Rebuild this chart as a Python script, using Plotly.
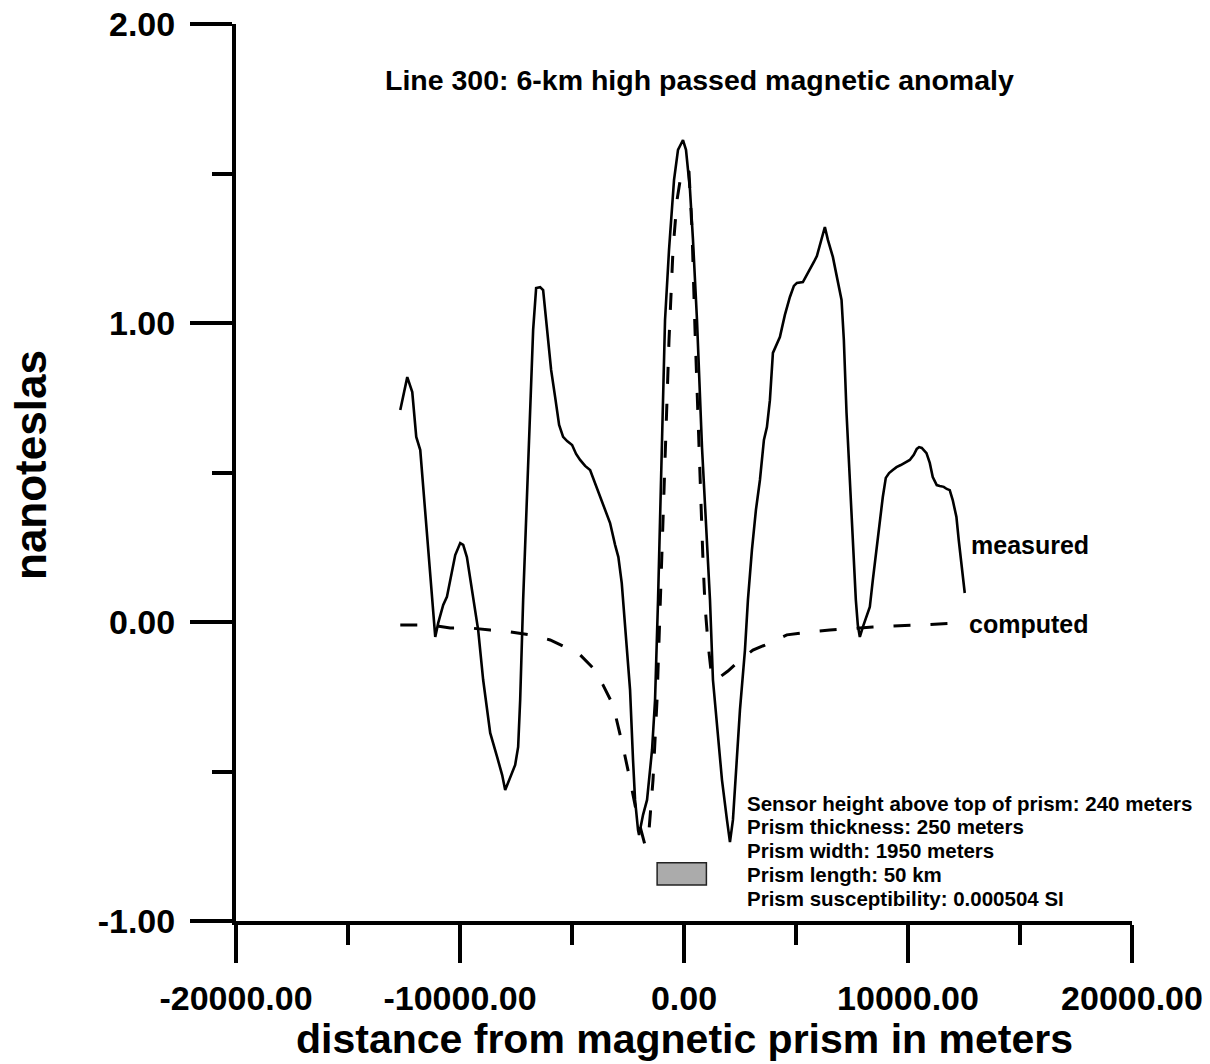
import plotly.graph_objects as go

# ---------------- data ----------------
measured_x = [-12666, -12354, -12131, -11953, -11774, -11476, -11239, -11105, -10972, -10749,
              -10584, -10361, -10213, -9990, -9857, -9692, -9411, -9188, -8965, -8652,
              -8340, -8117, -7983, -7760, -7537, -7404, -7314, -7181, -6958, -6735,
              -6601, -6422, -6289, -6110, -5932, -5754, -5575, -5397, -5218, -4995,
              -4817, -4638, -4415, -4192, -3969, -3746, -3523, -3300, -3077, -2930,
              -2779, -2721, -2556, -2408, -2275, -2185, -2052, -2007, -1828, -1650,
              -1427, -1293, -1159, -1025, -847, -669, -446, -268, -45, 89,
              268, 401, 580, 803, 1026, 1160, 1293, 1516, 1695, 1918,
              2052, 2185, 2319, 2498, 2721, 2854, 3033, 3211, 3390, 3568,
              3702, 3835, 3969, 4147, 4281, 4504, 4728, 4906, 5040, 5307,
              5486, 5620, 5798, 5932, 6066, 6289, 6423, 6646, 6780, 7033,
              7136, 7256, 7404, 7537, 7671, 7760, 7850, 7983, 8117, 8295,
              8429, 8594, 8742, 8875, 9009, 9156, 9322, 9486, 9678, 9901,
              10080, 10258, 10392, 10495, 10615, 10825, 10972, 11105, 11283, 11418,
              11596, 11730, 11864, 11997, 12162, 12265, 12399, 12533]
measured_nT = [0.709, 0.819, 0.769, 0.619, 0.575, 0.308, 0.074, -0.050, -0.003, 0.057,
               0.084, 0.174, 0.224, 0.264, 0.258, 0.217, 0.084, -0.027, -0.194, -0.371,
               -0.452, -0.512, -0.562, -0.522, -0.478, -0.418, -0.261, 0.074, 0.508, 0.977,
               1.117, 1.120, 1.110, 0.977, 0.843, 0.753, 0.659, 0.619, 0.605, 0.592,
               0.562, 0.542, 0.522, 0.508, 0.465, 0.418, 0.375, 0.331, 0.258, 0.217,
               0.130, 0.074, -0.094, -0.227, -0.462, -0.595, -0.696, -0.712, -0.645, -0.595,
               -0.428, -0.261, 0.074, 0.475, 1.010, 1.244, 1.478, 1.579, 1.612, 1.579,
               1.445, 1.278, 1.010, 0.585, 0.251, 0.074, -0.194, -0.395, -0.528, -0.662,
               -0.736, -0.662, -0.495, -0.294, -0.094, 0.074, 0.241, 0.375, 0.475, 0.609,
               0.652, 0.742, 0.900, 0.933, 0.953, 1.027, 1.087, 1.124, 1.134, 1.137,
               1.161, 1.177, 1.204, 1.224, 1.264, 1.321, 1.278, 1.221, 1.171, 1.077,
               0.943, 0.699, 0.475, 0.251, 0.074, -0.010, -0.050, -0.017, 0.013, 0.050,
               0.140, 0.251, 0.341, 0.418, 0.482, 0.498, 0.508, 0.518, 0.525, 0.535,
               0.542, 0.559, 0.579, 0.585, 0.582, 0.565, 0.532, 0.485, 0.458, 0.455,
               0.452, 0.445, 0.441, 0.408, 0.351, 0.274, 0.174, 0.097]

computed_x = [-12666, -11330, -10436, -9544, -8652, -7760, -6868, -5976, -5307, -4638,
              -4058, -3612, -3166, -2944, -2721, -2408, -2141, -1918, -1740, -1561,
              -1383, -1204, -1026, -847, -669, -491, -312, -134, 45, 223,
              357, 491, 624, 758, 847, 937, 1070, 1204, 1382, 1605,
              1962, 2498, 3077, 3612, 4593, 5620, 6512, 8429, 10213, 12443]
computed_nT = [-0.010, -0.010, -0.020, -0.020, -0.027, -0.033, -0.043, -0.060, -0.084, -0.110,
               -0.154, -0.211, -0.278, -0.344, -0.418, -0.528, -0.629, -0.696, -0.746, -0.696,
               -0.528, -0.261, 0.140, 0.575, 0.943, 1.244, 1.411, 1.495, 1.518, 1.505,
               1.311, 0.977, 0.676, 0.375, 0.207, 0.057, -0.070, -0.161, -0.194, -0.184,
               -0.164, -0.127, -0.094, -0.077, -0.043, -0.033, -0.027, -0.017, -0.010, -0.003]

prism_x = [-1200, 1000]
prism_y = [-0.880, -0.805]

x_tickvals = [-20000, -10000, 0, 10000, 20000]
x_ticktext = ["-20000.00", "-10000.00", "0.00", "10000.00", "20000.00"]
x_minorvals = [-15000, -5000, 5000, 15000]
y_tickvals = [2, 1, 0, -1]
y_ticktext = ["2.00", "1.00", "0.00", "-1.00"]
y_minorvals = [1.5, 0.5, -0.5]

title_text = "Line 300: 6-km high passed magnetic anomaly"
info_lines = ["Sensor height above top of prism: 240 meters",
              "Prism thickness: 250 meters",
              "Prism width: 1950 meters",
              "Prism length: 50 km",
              "Prism susceptibility: 0.000504 SI"]

# ---------------- layout geometry (page pixels) ----------------
W, H = 1210, 1064
L, R, T, B = 236, 1132, 24, 921   # plot area
FONT = "Liberation Sans, Arial, sans-serif"


def px_x(px):
    return (px - L) / (R - L)


def px_y(py):
    return (B - py) / (B - T)


fig = go.Figure()

fig.add_trace(go.Scatter(x=measured_x, y=measured_nT, mode="lines",
                         line=dict(color="black", width=2.6), showlegend=False))
fig.add_trace(go.Scatter(x=computed_x, y=computed_nT, mode="lines",
                         line=dict(color="black", width=3, dash="17px,20px"),
                         showlegend=False))

fig.add_shape(type="rect", xref="x", yref="y",
              x0=prism_x[0], x1=prism_x[1], y0=prism_y[0], y1=prism_y[1],
              fillcolor="#ababab", line=dict(color="#222222", width=1.5))

annots = []
annots.append(dict(text=title_text, x=px_x(383), y=px_y(80), xanchor="left", yanchor="middle",
                   font=dict(size=28.5, weight="bold")))
annots.append(dict(text="measured", x=px_x(969), y=px_y(545), xanchor="left", yanchor="middle",
                   font=dict(size=25, weight="bold")))
annots.append(dict(text="computed", x=px_x(967), y=px_y(624), xanchor="left", yanchor="middle",
                   font=dict(size=25, weight="bold")))
for i, line in enumerate(info_lines):
    annots.append(dict(text=line, x=px_x(745), y=px_y(803 + 23.8 * i), xanchor="left",
                       yanchor="middle", font=dict(size=20.5, weight="bold")))
annots.append(dict(text="distance from magnetic prism in meters", x=px_x(684), y=px_y(1039),
                   xanchor="center", yanchor="middle", font=dict(size=41, weight="bold")))
annots.append(dict(text="nanoteslas", x=px_x(30), y=px_y(465), xanchor="center",
                   yanchor="middle", textangle=-90, font=dict(size=44, weight="bold")))
for a in annots:
    a.update(xref="paper", yref="paper", showarrow=False)
    a["font"].update(family=FONT, color="black")

fig.update_layout(
    width=W, height=H,
    margin=dict(l=L, r=W - R, t=T, b=H - B, pad=0, autoexpand=False),
    paper_bgcolor="white", plot_bgcolor="white",
    annotations=annots,
    font=dict(family=FONT, color="black"),
)

common = dict(showgrid=False, zeroline=False, automargin=False,
              showline=True, linecolor="black", linewidth=4,
              ticks="outside", tickwidth=4, tickcolor="black",
              tickmode="array", ticklabeloverflow="allow",
              tickfont=dict(size=34, weight="bold", family=FONT))

fig.update_xaxes(range=[-20000, 20000], ticklen=38,
                 tickvals=x_tickvals, ticktext=x_ticktext, ticklabelstandoff=6,
                 minor=dict(tickmode="array", tickvals=x_minorvals, ticks="outside",
                            ticklen=20, tickwidth=4, tickcolor="black"),
                 **common)
fig.update_yaxes(range=[-1, 2], ticklen=42,
                 tickvals=y_tickvals, ticktext=y_ticktext, ticklabelstandoff=8,
                 minor=dict(tickmode="array", tickvals=y_minorvals, ticks="outside",
                            ticklen=20, tickwidth=4, tickcolor="black"),
                 **common)

post = (
    "document.documentElement.style.margin='0';"
    "document.documentElement.style.overflow='hidden';"
    "document.body.style.margin='0';"
    "document.body.style.overflow='hidden';"
    "var gd=document.querySelector('.plotly-graph-div');"
    "gd.style.position='fixed';gd.style.left='0px';gd.style.top='0px';"
)
fig.write_html("out.html", config={"displayModeBar": False}, post_script=post)
